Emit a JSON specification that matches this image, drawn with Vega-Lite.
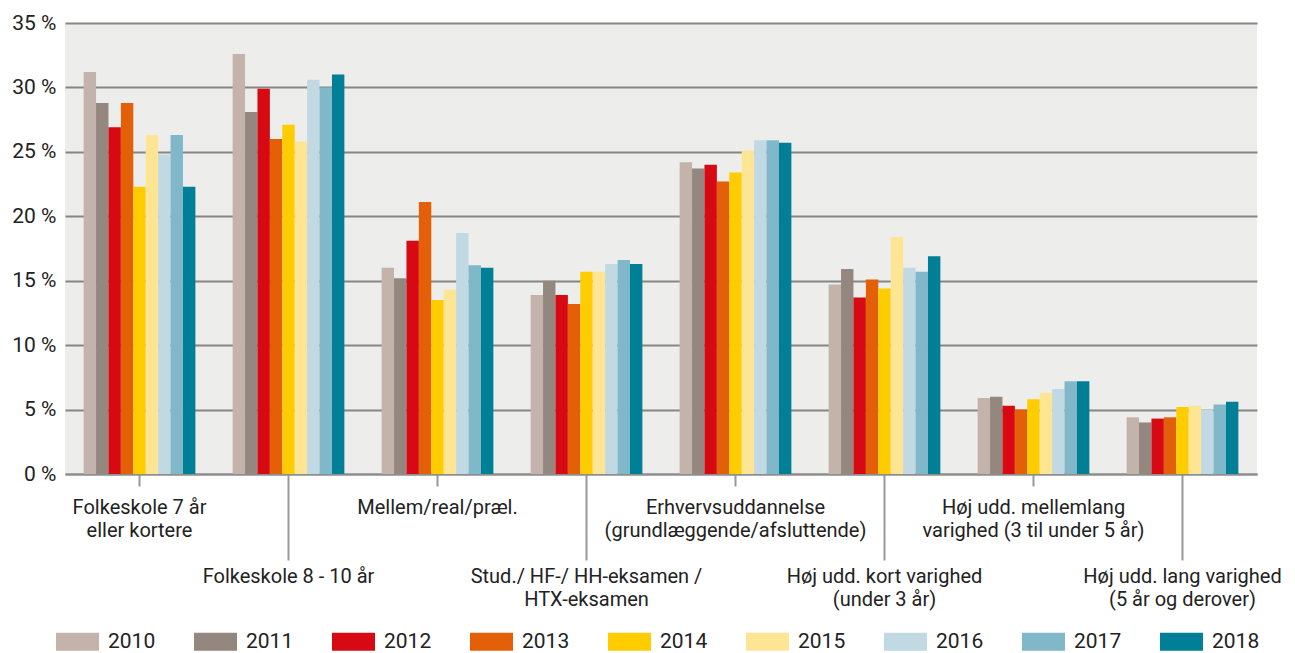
{
  "$schema": "https://vega.github.io/schema/vega-lite/v6.json",
  "width": 1192,
  "height": 451,
  "autosize": {"type": "none"},
  "padding": {"left": 65, "top": 23, "right": 38, "bottom": 179},
  "background": "white",
  "config": {
    "font": "Roboto",
    "view": {"fill": "#EDEDEB", "stroke": null},
    "axis": {"labelFont": "Roboto", "labelColor": "#222222"}
  },
  "datasets": {
    "main": [
      {"cat": "Folkeskole 7 år|eller kortere", "year": "2010", "pct": 31.2},
      {"cat": "Folkeskole 7 år|eller kortere", "year": "2011", "pct": 28.8},
      {"cat": "Folkeskole 7 år|eller kortere", "year": "2012", "pct": 26.9},
      {"cat": "Folkeskole 7 år|eller kortere", "year": "2013", "pct": 28.8},
      {"cat": "Folkeskole 7 år|eller kortere", "year": "2014", "pct": 22.3},
      {"cat": "Folkeskole 7 år|eller kortere", "year": "2015", "pct": 26.3},
      {"cat": "Folkeskole 7 år|eller kortere", "year": "2016", "pct": 24.8},
      {"cat": "Folkeskole 7 år|eller kortere", "year": "2017", "pct": 26.3},
      {"cat": "Folkeskole 7 år|eller kortere", "year": "2018", "pct": 22.3},
      {"cat": "Folkeskole 8 - 10 år", "year": "2010", "pct": 32.6},
      {"cat": "Folkeskole 8 - 10 år", "year": "2011", "pct": 28.1},
      {"cat": "Folkeskole 8 - 10 år", "year": "2012", "pct": 29.9},
      {"cat": "Folkeskole 8 - 10 år", "year": "2013", "pct": 26.0},
      {"cat": "Folkeskole 8 - 10 år", "year": "2014", "pct": 27.1},
      {"cat": "Folkeskole 8 - 10 år", "year": "2015", "pct": 25.8},
      {"cat": "Folkeskole 8 - 10 år", "year": "2016", "pct": 30.6},
      {"cat": "Folkeskole 8 - 10 år", "year": "2017", "pct": 30.0},
      {"cat": "Folkeskole 8 - 10 år", "year": "2018", "pct": 31.0},
      {"cat": "Mellem/real/præl.", "year": "2010", "pct": 16.0},
      {"cat": "Mellem/real/præl.", "year": "2011", "pct": 15.2},
      {"cat": "Mellem/real/præl.", "year": "2012", "pct": 18.1},
      {"cat": "Mellem/real/præl.", "year": "2013", "pct": 21.1},
      {"cat": "Mellem/real/præl.", "year": "2014", "pct": 13.5},
      {"cat": "Mellem/real/præl.", "year": "2015", "pct": 14.3},
      {"cat": "Mellem/real/præl.", "year": "2016", "pct": 18.7},
      {"cat": "Mellem/real/præl.", "year": "2017", "pct": 16.2},
      {"cat": "Mellem/real/præl.", "year": "2018", "pct": 16.0},
      {"cat": "Stud./ HF-/ HH-eksamen /|HTX-eksamen", "year": "2010", "pct": 13.9},
      {"cat": "Stud./ HF-/ HH-eksamen /|HTX-eksamen", "year": "2011", "pct": 15.0},
      {"cat": "Stud./ HF-/ HH-eksamen /|HTX-eksamen", "year": "2012", "pct": 13.9},
      {"cat": "Stud./ HF-/ HH-eksamen /|HTX-eksamen", "year": "2013", "pct": 13.2},
      {"cat": "Stud./ HF-/ HH-eksamen /|HTX-eksamen", "year": "2014", "pct": 15.7},
      {"cat": "Stud./ HF-/ HH-eksamen /|HTX-eksamen", "year": "2015", "pct": 15.7},
      {"cat": "Stud./ HF-/ HH-eksamen /|HTX-eksamen", "year": "2016", "pct": 16.3},
      {"cat": "Stud./ HF-/ HH-eksamen /|HTX-eksamen", "year": "2017", "pct": 16.6},
      {"cat": "Stud./ HF-/ HH-eksamen /|HTX-eksamen", "year": "2018", "pct": 16.3},
      {"cat": "Erhvervsuddannelse|(grundlæggende/afsluttende)", "year": "2010", "pct": 24.2},
      {"cat": "Erhvervsuddannelse|(grundlæggende/afsluttende)", "year": "2011", "pct": 23.7},
      {"cat": "Erhvervsuddannelse|(grundlæggende/afsluttende)", "year": "2012", "pct": 24.0},
      {"cat": "Erhvervsuddannelse|(grundlæggende/afsluttende)", "year": "2013", "pct": 22.7},
      {"cat": "Erhvervsuddannelse|(grundlæggende/afsluttende)", "year": "2014", "pct": 23.4},
      {"cat": "Erhvervsuddannelse|(grundlæggende/afsluttende)", "year": "2015", "pct": 25.1},
      {"cat": "Erhvervsuddannelse|(grundlæggende/afsluttende)", "year": "2016", "pct": 25.9},
      {"cat": "Erhvervsuddannelse|(grundlæggende/afsluttende)", "year": "2017", "pct": 25.9},
      {"cat": "Erhvervsuddannelse|(grundlæggende/afsluttende)", "year": "2018", "pct": 25.7},
      {"cat": "Høj udd. kort varighed|(under 3 år)", "year": "2010", "pct": 14.7},
      {"cat": "Høj udd. kort varighed|(under 3 år)", "year": "2011", "pct": 15.9},
      {"cat": "Høj udd. kort varighed|(under 3 år)", "year": "2012", "pct": 13.7},
      {"cat": "Høj udd. kort varighed|(under 3 år)", "year": "2013", "pct": 15.1},
      {"cat": "Høj udd. kort varighed|(under 3 år)", "year": "2014", "pct": 14.4},
      {"cat": "Høj udd. kort varighed|(under 3 år)", "year": "2015", "pct": 18.4},
      {"cat": "Høj udd. kort varighed|(under 3 år)", "year": "2016", "pct": 16.0},
      {"cat": "Høj udd. kort varighed|(under 3 år)", "year": "2017", "pct": 15.7},
      {"cat": "Høj udd. kort varighed|(under 3 år)", "year": "2018", "pct": 16.9},
      {"cat": "Høj udd. mellemlang|varighed (3 til under 5 år)", "year": "2010", "pct": 5.9},
      {"cat": "Høj udd. mellemlang|varighed (3 til under 5 år)", "year": "2011", "pct": 6.0},
      {"cat": "Høj udd. mellemlang|varighed (3 til under 5 år)", "year": "2012", "pct": 5.3},
      {"cat": "Høj udd. mellemlang|varighed (3 til under 5 år)", "year": "2013", "pct": 5.0},
      {"cat": "Høj udd. mellemlang|varighed (3 til under 5 år)", "year": "2014", "pct": 5.8},
      {"cat": "Høj udd. mellemlang|varighed (3 til under 5 år)", "year": "2015", "pct": 6.3},
      {"cat": "Høj udd. mellemlang|varighed (3 til under 5 år)", "year": "2016", "pct": 6.6},
      {"cat": "Høj udd. mellemlang|varighed (3 til under 5 år)", "year": "2017", "pct": 7.2},
      {"cat": "Høj udd. mellemlang|varighed (3 til under 5 år)", "year": "2018", "pct": 7.2},
      {"cat": "Høj udd. lang varighed|(5 år og derover)", "year": "2010", "pct": 4.4},
      {"cat": "Høj udd. lang varighed|(5 år og derover)", "year": "2011", "pct": 4.0},
      {"cat": "Høj udd. lang varighed|(5 år og derover)", "year": "2012", "pct": 4.3},
      {"cat": "Høj udd. lang varighed|(5 år og derover)", "year": "2013", "pct": 4.4},
      {"cat": "Høj udd. lang varighed|(5 år og derover)", "year": "2014", "pct": 5.2},
      {"cat": "Høj udd. lang varighed|(5 år og derover)", "year": "2015", "pct": 5.3},
      {"cat": "Høj udd. lang varighed|(5 år og derover)", "year": "2016", "pct": 5.0},
      {"cat": "Høj udd. lang varighed|(5 år og derover)", "year": "2017", "pct": 5.4},
      {"cat": "Høj udd. lang varighed|(5 år og derover)", "year": "2018", "pct": 5.6}
    ]
  },
  "data": {"name": "main"},
  "mark": {"type": "bar"},
  "encoding": {
    "x": {
      "field": "cat",
      "type": "nominal",
      "sort": null,
      "scale": {"paddingInner": 0.25, "paddingOuter": 0.125},
      "axis": {
        "title": null,
        "labelAngle": 0,
        "labelExpr": "split(datum.value, '|')",
        "labelFontSize": 20,
        "labelLineHeight": 23,
        "labelBaseline": "top",
        "labelAlign": "center",
        "labelOverlap": false,
        "labelLimit": 400,
        "domainColor": "#8f8f8f",
        "domainWidth": 2,
        "tickColor": "#999999",
        "tickWidth": 2,
        "tickSize": {"condition": {"test": "indexof(['Folkeskole 8 - 10 år','Stud./ HF-/ HH-eksamen /|HTX-eksamen','Høj udd. kort varighed|(under 3 år)','Høj udd. lang varighed|(5 år og derover)'], datum.value) >= 0", "value": 86}, "value": 12},
        "labelPadding": {"condition": {"test": "indexof(['Folkeskole 8 - 10 år','Stud./ HF-/ HH-eksamen /|HTX-eksamen','Høj udd. kort varighed|(under 3 år)','Høj udd. lang varighed|(5 år og derover)'], datum.value) >= 0", "value": 6}, "value": 11}
      }
    },
    "xOffset": {"field": "year", "type": "nominal", "scale": {"paddingInner": 0, "paddingOuter": 0}},
    "y": {
      "field": "pct",
      "type": "quantitative",
      "scale": {"domain": [0, 35], "nice": false},
      "axis": {
        "title": null,
        "values": [0, 5, 10, 15, 20, 25, 30, 35],
        "labelExpr": "datum.value + ' %'",
        "labelFontSize": 21,
        "labelPadding": 9,
        "ticks": false,
        "domain": false,
        "gridColor": "#858585",
        "gridWidth": 2
      }
    },
    "color": {
      "field": "year",
      "type": "nominal",
      "scale": {
        "domain": ["2010", "2011", "2012", "2013", "2014", "2015", "2016", "2017", "2018"],
        "range": ["#C4B3AA", "#93877F", "#D70A13", "#E35F08", "#FFCC00", "#FEE594", "#C0D9E3", "#80B8CA", "#007F96"]
      },
      "legend": {
        "title": null,
        "orient": "none",
        "direction": "horizontal",
        "columns": 9,
        "legendX": -9,
        "legendY": 597,
        "padding": 0,
        "symbolType": "M-1,-0.42H1V0.42H-1Z",
        "symbolSize": 1849,
        "symbolStrokeWidth": 0,
        "symbolOpacity": 1,
        "labelFontSize": 21,
        "labelFont": "Roboto",
        "labelColor": "#222222",
        "labelOffset": 9,
        "columnPadding": 38
      }
    }
  }
}
